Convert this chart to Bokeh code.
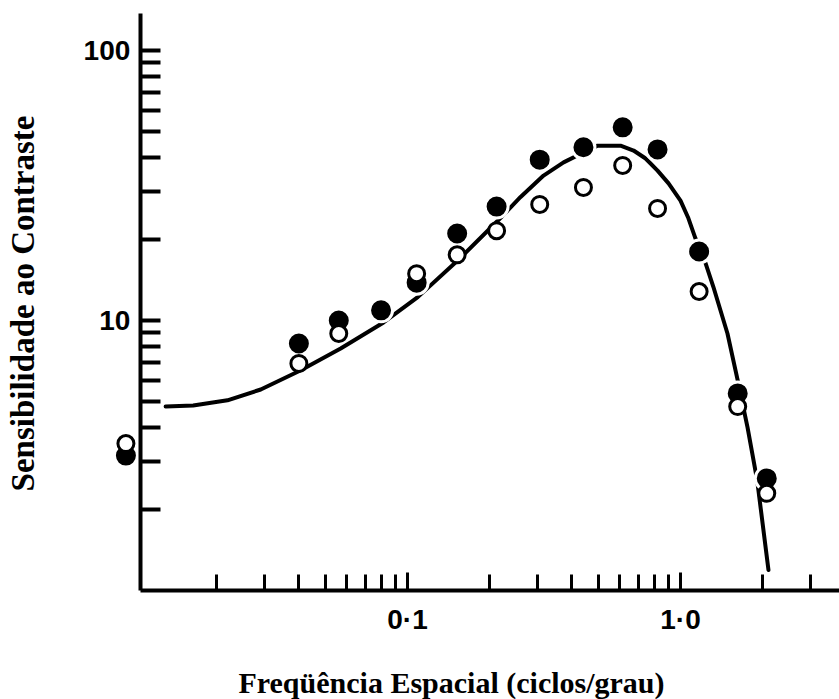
import math

from bokeh.plotting import figure
from bokeh.models import FixedTicker, Range1d, Label
from bokeh.embed import file_html
from bokeh.resources import INLINE

# Spatial frequency (cycles/degree) and contrast sensitivity
filled_freq = [0.0093, 0.040, 0.056, 0.080, 0.108, 0.152, 0.212, 0.305, 0.441, 0.614, 0.824, 1.17, 1.62, 2.07]
filled_sens = [3.16, 8.22, 10.0, 10.9, 13.8, 21.0, 26.4, 39.4, 43.8, 51.9, 43.0, 18.0, 5.37, 2.60]

open_freq = [0.0093, 0.040, 0.056, 0.108, 0.152, 0.212, 0.305, 0.441, 0.614, 0.824, 1.17, 1.62, 2.07]
open_sens = [3.50, 6.93, 8.95, 14.9, 17.5, 21.5, 26.9, 31.1, 37.5, 26.0, 12.8, 4.80, 2.29]

# Fitted sensitivity curve
curve_freq = [0.0130, 0.0164, 0.0219, 0.0290, 0.0405, 0.0569, 0.0817, 0.109, 0.153, 0.214,
              0.259, 0.315, 0.373, 0.441, 0.497, 0.603, 0.673, 0.745, 0.824, 0.904, 1.0,
              1.069, 1.135, 1.235, 1.32, 1.486, 1.62, 1.76, 1.91, 2.10]
curve_sens = [4.80, 4.84, 5.06, 5.55, 6.53, 7.87, 9.83, 12.2, 16.7, 23.4,
              28.6, 34.4, 38.5, 41.9, 44.4, 44.4, 42.6, 39.8, 35.9, 32.2, 27.8,
              23.9, 20.1, 16.3, 13.3, 8.95, 6.0, 4.02, 2.55, 1.19]

# Tick positions and labels
x_major = [0.1, 1.0]
x_major_labels = ["0·1", "1·0"]
x_minor = [0.02, 0.03, 0.04, 0.05, 0.06, 0.07, 0.08, 0.09,
           0.2, 0.3, 0.4, 0.5, 0.6, 0.7, 0.8, 0.9, 2.0, 3.0]
y_major = [10, 100]
y_major_labels = ["10", "100"]
y_minor = [2, 3, 4, 5, 6, 7, 8, 9, 20, 30, 40, 50, 60, 70, 80, 90]

# Visible extent of the plotting area (whole canvas) and where the axes sit
X_START, X_END = 0.003229, 3.823
Y_START, Y_END = 0.3947, 153.1
X_AXIS_AT = 1.0        # sensitivity value where the frequency axis is drawn
Y_AXIS_AT = 0.0105     # frequency value where the sensitivity axis is drawn
Y_AXIS_TOP = 137.0

p = figure(width=839, height=699,
           x_axis_type="log", y_axis_type="log",
           x_range=Range1d(X_START, X_END), y_range=Range1d(Y_START, Y_END),
           output_backend="svg", toolbar_location=None, min_border=0)

p.outline_line_color = None
p.xgrid.visible = False
p.ygrid.visible = False
p.background_fill_color = "white"
p.border_fill_color = "white"

# frequency axis
xa = p.xaxis[0]
xa.fixed_location = X_AXIS_AT
xa.ticker = FixedTicker(ticks=x_major, minor_ticks=x_minor)
xa.major_label_overrides = {t: s for t, s in zip(x_major, x_major_labels)}
xa.bounds = (Y_AXIS_AT, X_END)
xa.axis_line_width = 4
xa.axis_line_color = "black"
xa.major_tick_in = 18
xa.major_tick_out = 0
xa.minor_tick_in = 16
xa.minor_tick_out = 0
xa.major_tick_line_width = 3
xa.minor_tick_line_width = 3
xa.major_tick_line_color = "black"
xa.minor_tick_line_color = "black"
xa.major_label_standoff = 14
xa.major_label_text_font = "Liberation Sans"
xa.major_label_text_font_style = "bold"
xa.major_label_text_font_size = "28px"
xa.major_label_text_color = "black"

# sensitivity axis
ya = p.yaxis[0]
ya.fixed_location = Y_AXIS_AT
ya.ticker = FixedTicker(ticks=y_major, minor_ticks=y_minor)
ya.major_label_overrides = {t: s for t, s in zip(y_major, y_major_labels)}
ya.bounds = (X_AXIS_AT, Y_AXIS_TOP)
ya.axis_line_width = 4
ya.axis_line_color = "black"
ya.major_tick_in = 20
ya.major_tick_out = 0
ya.minor_tick_in = 20
ya.minor_tick_out = 0
ya.major_tick_line_width = 4
ya.minor_tick_line_width = 4
ya.major_tick_line_color = "black"
ya.minor_tick_line_color = "black"
ya.major_label_standoff = 10
ya.major_label_text_font = "Liberation Sans"
ya.major_label_text_font_style = "bold"
ya.major_label_text_font_size = "28px"
ya.major_label_text_color = "black"

# fitted curve
p.line(curve_freq, curve_sens, line_color="black", line_width=4, line_join="round", line_cap="round")

# filled markers with a white halo where they cross the curve
p.scatter(filled_freq, filled_sens, marker="circle", size=23,
          fill_color="black", line_color="white", line_width=3)
# open markers
p.scatter(open_freq, open_sens, marker="circle", size=16,
          fill_color="white", line_color="black", line_width=3)

# axis titles
p.add_layout(Label(x=22, y=396, x_units="screen", y_units="screen",
                   text="Sensibilidade ao Contraste", angle=math.pi / 2,
                   text_align="center", text_baseline="middle",
                   text_font="Liberation Serif", text_font_style="bold",
                   text_font_size="33px", text_color="black"))
p.add_layout(Label(x=451, y=17, x_units="screen", y_units="screen",
                   text="Freqüência Espacial (ciclos/grau)",
                   text_align="center", text_baseline="middle",
                   text_font="Liberation Serif", text_font_style="bold",
                   text_font_size="30px", text_color="black"))

open("out.html", "w").write(file_html(p, INLINE))
